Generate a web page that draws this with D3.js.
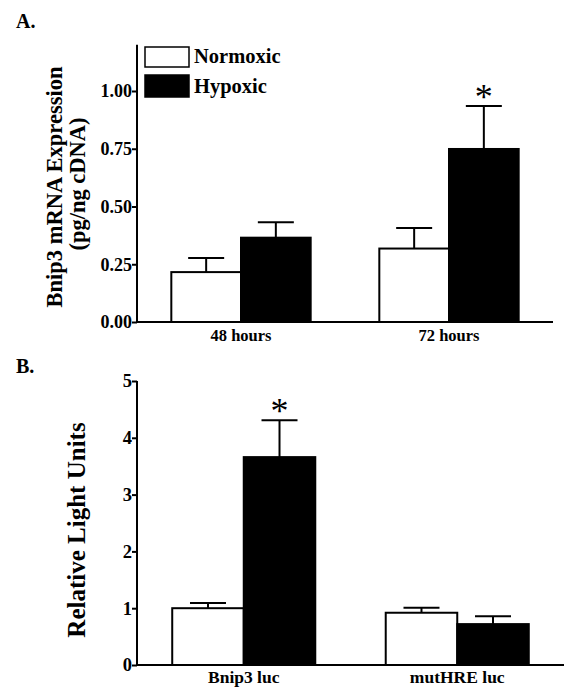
<!DOCTYPE html>
<html><head><meta charset="utf-8">
<script src="https://cdn.jsdelivr.net/npm/d3@7"></script>
<style>body{margin:0;background:#fff}svg{display:block}text{font-family:"Liberation Serif","Times New Roman",serif;font-weight:bold;fill:#000}</style>
</head><body>
<svg id="c" width="575" height="700"></svg>
<script>
// Panel A data
const catsA = ["48 hours", "72 hours"];
const series = ["Normoxic", "Hypoxic"];
const normA = [0.216, 0.318];
const normAErr = [0.061, 0.089];
const hypA = [0.365, 0.749];
const hypAErr = [0.067, 0.186];
const sigA = [false, true];
const ticksA = [0, 0.25, 0.5, 0.75, 1.0];

// Panel B data
const catsB = ["Bnip3 luc", "mutHRE luc"];
const normB = [1.0, 0.92];
const normBErr = [0.09, 0.09];
const hypB = [3.66, 0.72];
const hypBErr = [0.65, 0.14];
const sigB = [true, false];
const ticksB = [0, 1, 2, 3, 4, 5];

const svg = d3.select("#c");
const fill = {Normoxic: "#fff", Hypoxic: "#000"};

function panel(o) {
  const g = svg.append("g");
  const x = d3.scaleBand().domain(o.cats).range([o.x0, o.x1]).paddingInner(0.33).paddingOuter(0.165);
  const xs = d3.scaleBand().domain(series).range([0, x.bandwidth()]);
  const y = d3.scaleLinear().domain([0, o.ymax]).range([o.y0, o.y1]);

  const rows = [];
  o.cats.forEach((c, i) => {
    rows.push({c, s: "Normoxic", v: o.norm[i], e: o.normErr[i], sig: false});
    rows.push({c, s: "Hypoxic", v: o.hyp[i], e: o.hypErr[i], sig: o.sig[i]});
  });

  // error bars (upper only)
  const cap = 36;
  rows.forEach(r => {
    const cx = x(r.c) + xs(r.s) + xs.bandwidth() / 2;
    g.append("line").attr("x1", cx).attr("x2", cx).attr("y1", y(r.v)).attr("y2", y(r.v + r.e))
      .attr("stroke", "#000").attr("stroke-width", 2);
    g.append("line").attr("x1", cx - cap / 2).attr("x2", cx + cap / 2).attr("y1", y(r.v + r.e)).attr("y2", y(r.v + r.e))
      .attr("stroke", "#000").attr("stroke-width", 2);
    if (r.sig) {
      g.append("text").attr("x", cx).attr("y", y(r.v + r.e) + 3).attr("text-anchor", "middle")
        .style("font-size", "36px").style("font-weight", "normal").text("*");
    }
  });

  g.selectAll("rect.bar").data(rows).join("rect").attr("class", "bar")
    .attr("x", d => x(d.c) + xs(d.s))
    .attr("width", xs.bandwidth())
    .attr("y", d => y(d.v))
    .attr("height", d => y(0) - y(d.v))
    .attr("fill", d => fill[d.s]).attr("stroke", "#000").attr("stroke-width", 2);

  // y axis
  const ya = g.append("g").attr("transform", `translate(${o.x0},0)`)
    .call(d3.axisLeft(y).tickValues(o.ticks).tickFormat(o.fmt).tickSize(5).tickSizeOuter(0));
  ya.select(".domain").attr("stroke-width", 2).attr("d", `M0,${o.y0}V${o.y1}`);
  ya.selectAll(".tick line").attr("stroke-width", 2);
  ya.selectAll(".tick text").attr("x", -5).style("font-size", o.tickFs + "px").attr("font-family", null);
  ya.attr("font-family", null).attr("font-size", null);

  // x axis
  const xa = g.append("g").attr("transform", `translate(0,${o.y0})`)
    .call(d3.axisBottom(x).tickSize(0).tickSizeOuter(0));
  xa.select(".domain").attr("stroke-width", 2).attr("d", `M${o.x0},0H${o.x1}`);
  xa.selectAll(".tick text").attr("y", o.xlabDy).attr("dy", 0).style("font-size", o.xFs + "px");
  xa.attr("font-family", null).attr("font-size", null);

  // panel letter
  svg.append("text").attr("x", 16).attr("y", o.letterY).style("font-size", "20px").text(o.letter);
  return {g, x, y};
}

const A = panel({cats: catsA, norm: normA, normErr: normAErr, hyp: hypA, hypErr: hypAErr, sig: sigA,
  x0: 137, x1: 553, y0: 322, y1: 44.8, ymax: 1.2, ticks: ticksA, fmt: d3.format(".2f"),
  tickFs: 18, xFs: 16.5, xlabDy: 19, letter: "A.", letterY: 28});

// Panel A y-label
svg.append("text").attr("transform", "translate(62,187) rotate(-90)").attr("text-anchor", "middle")
  .style("font-size", "22.5px").text("Bnip3 mRNA Expression");
svg.append("text").attr("transform", "translate(85,184) rotate(-90)").attr("text-anchor", "middle")
  .style("font-size", "22.5px").text("(pg/ng cDNA)");

// Legend
series.forEach((s, i) => {
  const ly = 47 + i * 28;
  svg.append("rect").attr("x", 145).attr("y", ly).attr("width", 44).attr("height", 20 + i * 2)
    .attr("fill", fill[s]).attr("stroke", "#000").attr("stroke-width", 1.5);
  svg.append("text").attr("x", 194).attr("y", ly + 16 + i * 2).style("font-size", "20.5px").text(s);
});

const B = panel({cats: catsB, norm: normB, normErr: normBErr, hyp: hypB, hypErr: hypBErr, sig: sigB,
  x0: 137, x1: 564, y0: 665, y1: 381, ymax: 5, ticks: ticksB, fmt: d3.format("d"),
  tickFs: 18.5, xFs: 17.5, xlabDy: 18, letter: "B.", letterY: 373});

svg.append("text").attr("transform", "translate(85,530) rotate(-90)").attr("text-anchor", "middle")
  .style("font-size", "25px").text("Relative Light Units");
</script>
</body></html>
